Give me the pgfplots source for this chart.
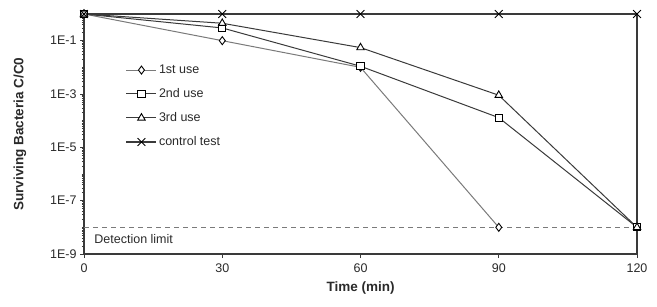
\documentclass[border=0pt]{standalone}
\usepackage{pgfplots}
\pgfplotsset{compat=1.18}
\usepackage{fontspec}
\setmainfont{Liberation Sans}
\definecolor{txt}{HTML}{2a2a2a}
\definecolor{dline}{HTML}{3a3a3a}
\definecolor{lline}{HTML}{7a7a7a}
\begin{document}
\begin{tikzpicture}
\begin{axis}[
  scale only axis, width=553pt, height=240pt,
  ymode=log, ymin=1e-9, ymax=1, xmin=0, xmax=120,
  xtick={0,30,60,90,120},
  ytick={1e-9,1e-7,1e-5,1e-3,1e-1},
  yticklabels={1E-9,1E-7,1E-5,1E-3,1E-1},
  minor ytick={2e-9,3e-9,4e-9,5e-9,6e-9,7e-9,8e-9,9e-9,1e-8,
    2e-8,3e-8,4e-8,5e-8,6e-8,7e-8,8e-8,9e-8,
    2e-7,3e-7,4e-7,5e-7,6e-7,7e-7,8e-7,9e-7,1e-6,
    2e-6,3e-6,4e-6,5e-6,6e-6,7e-6,8e-6,9e-6,
    2e-5,3e-5,4e-5,5e-5,6e-5,7e-5,8e-5,9e-5,1e-4,
    2e-4,3e-4,4e-4,5e-4,6e-4,7e-4,8e-4,9e-4,
    2e-3,3e-3,4e-3,5e-3,6e-3,7e-3,8e-3,9e-3,1e-2,
    2e-2,3e-2,4e-2,5e-2,6e-2,7e-2,8e-2,9e-2,
    2e-1,3e-1,4e-1,5e-1,6e-1,7e-1,8e-1,9e-1},
  xtick pos=bottom, ytick pos=left,
  tick align=outside,
  major tick length=4pt, minor tick length=2pt,
  every tick/.style={dline, line width=0.8pt},
  axis line style={dline, line width=1.1pt},
  tick label style={font=\fontsize{12.5}{14}\selectfont, text=txt},
  xticklabel style={yshift=-2pt},
  /pgf/number format/assume math mode=true,
  xlabel={\bfseries Time (min)},
  ylabel={\bfseries Surviving Bacteria C/C0},
  label style={font=\fontsize{13.5}{15}\selectfont, text=txt},
  xlabel style={yshift=-2pt},
  ylabel style={yshift=17pt},
  legend style={at={(rel axis cs:0.07,0.805)}, anchor=north west, draw=none, fill=none,
    font=\fontsize{12.5}{14}\selectfont, text=txt, row sep=9.5pt},
  legend cell align=left,
  legend image code/.code={\draw[mark repeat=2,mark phase=2,#1] plot coordinates {(0pt,0pt)(15pt,0pt)(30pt,0pt)};},
  clip=false,
]
\addplot[lline, line width=1pt, mark=diamond*, mark size=4pt,
  mark options={fill=white, draw=black, line width=0.9pt}]
  coordinates {(0,1)(30,0.1)(60,0.01)(90,1e-8)};
\addlegendentry{1st use}
\addplot[dline, line width=1pt, mark=square*, mark size=3.6pt,
  mark options={fill=white, draw=black, line width=0.9pt}]
  coordinates {(0,1)(30,0.3)(60,0.011)(90,1.3e-4)(120,1e-8)};
\addlegendentry{2nd use}
\addplot[dline, line width=1pt, mark=triangle*, mark size=4.3pt,
  mark options={fill=white, draw=black, line width=0.9pt}]
  coordinates {(0,1)(30,0.45)(60,0.055)(90,9e-4)(120,1e-8)};
\addlegendentry{3rd use}
\addplot[dline, line width=1.1pt, mark=x, mark size=5.5pt,
  mark options={draw=black, line width=1pt}]
  coordinates {(0,1)(30,1)(60,1)(90,1)(120,1)};
\addlegendentry{control test}
\addplot[lline, line width=1.1pt, dash pattern=on 5pt off 4pt, forget plot]
  coordinates {(0,1e-8)(120,1e-8)};
\node[anchor=north west, font=\fontsize{12.5}{14}\selectfont, text=txt, inner sep=1pt]
  at (axis cs:2,6e-9) {Detection limit};
\end{axis}
\path ([xshift=-84pt,yshift=-52pt]current axis.south west) rectangle ([xshift=20pt,yshift=14pt]current axis.north east);
\end{tikzpicture}
\end{document}
